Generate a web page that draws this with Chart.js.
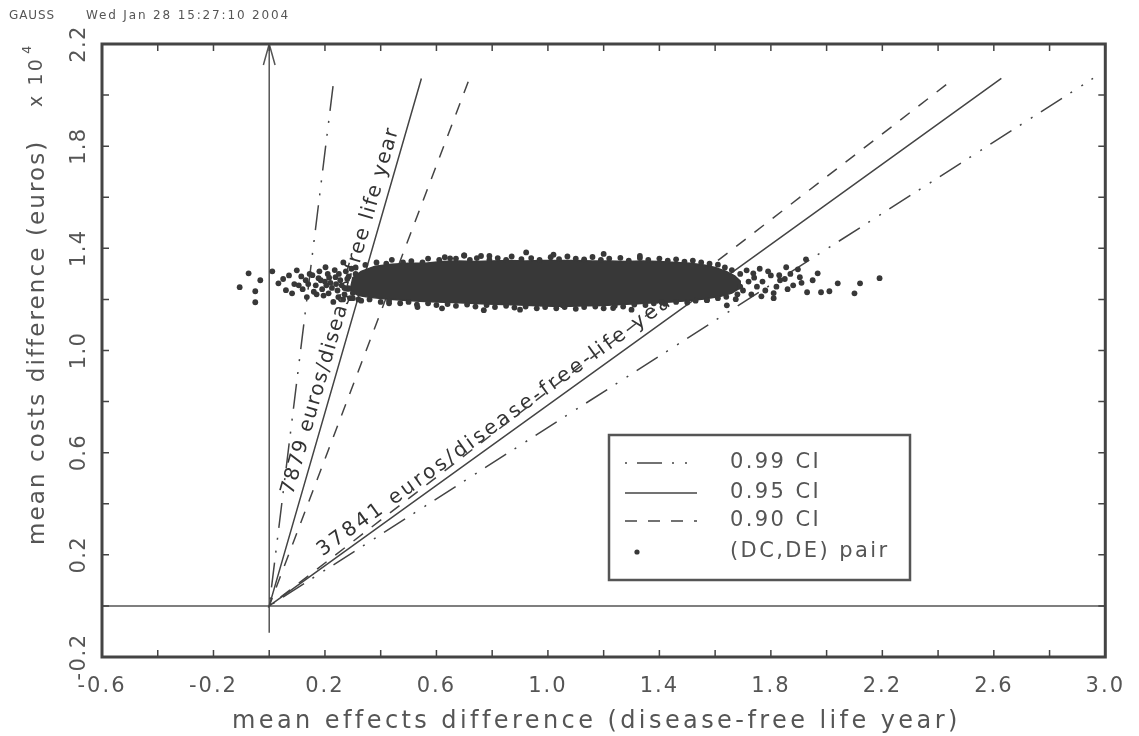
<!DOCTYPE html>
<html>
<head>
<meta charset="utf-8">
<script src="https://cdn.jsdelivr.net/npm/chart.js@4.4.1/dist/chart.umd.min.js"></script>
<style>
  html, body { margin: 0; padding: 0; background: #fff; }
  #wrap { width: 1139px; height: 736px; }
</style>
</head>
<body>
<div id="wrap"><canvas id="ceaPlane" width="1139" height="736"></canvas></div>
<script>
// x: mean effects difference (disease-free life year), y: mean costs difference (x 10^4 euros)
const xTickLabels = ['-0.6', '-0.2', '0.2', '0.6', '1.0', '1.4', '1.8', '2.2', '2.6', '3.0'];
const yTickLabels = ['-0.2', '0.2', '0.6', '1.0', '1.4', '1.8', '2.2'];
const headerTexts = ['GAUSS', 'Wed Jan 28 15:27:10 2004'];
const legendLabels = ['0.99 CI', '0.95 CI', '0.90 CI', '(DC,DE) pair'];

// ends of the CI rays: [steep end, shallow end], each ray starts at the origin
const ci99Ends = [[0.229, 2.035], [2.956, 2.065]];
const ci95Ends = [[0.546, 2.065], [2.627, 2.065]];
const ci90Ends = [[0.714, 2.052], [2.458, 2.065]];

// axes drawn through the origin
const yAxisLine = [[0, -0.105], [0, 2.2]];
const arrowHead = [[-0.021, 2.118], [0, 2.2], [0.021, 2.118]];
const xAxisLine = [[-0.6, 0], [3.0, 0]];

// outline of the solid part of the bootstrap cloud
const cloudCore = [
  [0.29, 1.235], [0.30, 1.285], [0.33, 1.31], [0.38, 1.33], [0.44, 1.338], [0.50, 1.342],
  [0.56, 1.342], [0.62, 1.348], [0.68, 1.35], [0.74, 1.348], [0.80, 1.35], [0.86, 1.352],
  [0.92, 1.35], [0.98, 1.352], [1.04, 1.352], [1.10, 1.352], [1.16, 1.35], [1.22, 1.35],
  [1.28, 1.348], [1.34, 1.35], [1.40, 1.348], [1.46, 1.345], [1.51, 1.342], [1.56, 1.335],
  [1.60, 1.325], [1.64, 1.31], [1.67, 1.292], [1.69, 1.272],
  [1.69, 1.245], [1.66, 1.225], [1.62, 1.212], [1.56, 1.202], [1.50, 1.195], [1.44, 1.19],
  [1.38, 1.187], [1.32, 1.183], [1.26, 1.18], [1.20, 1.176], [1.14, 1.175], [1.08, 1.173],
  [1.02, 1.173], [0.96, 1.175], [0.90, 1.178], [0.84, 1.18], [0.78, 1.182], [0.72, 1.185],
  [0.66, 1.188], [0.60, 1.19], [0.54, 1.193], [0.48, 1.197], [0.42, 1.202], [0.36, 1.208],
  [0.32, 1.215], [0.29, 1.235]
];

// single (DC,DE) pairs around the solid part
const cloudPairs = [
  [-0.106, 1.248], [-0.074, 1.302], [-0.05, 1.232], [-0.05, 1.189], [-0.032, 1.275], [0.011, 1.31],
  [0.033, 1.263], [0.071, 1.294], [0.099, 1.314], [0.106, 1.255], [0.06, 1.236], [0.082, 1.224],
  [0.135, 1.209], [0.167, 1.255], [0.202, 1.326], [0.177, 1.283], [0.213, 1.224], [0.131, 1.275],
  [0.238, 1.287], [0.266, 1.345], [0.248, 1.209], [0.284, 1.244], [0.19, 1.24], [0.22, 1.265],
  [0.25, 1.30], [0.27, 1.22], [0.23, 1.19], [0.26, 1.255], [0.28, 1.28], [0.21, 1.30],
  [0.155, 1.295], [0.12, 1.24], [0.29, 1.205], [0.275, 1.31], [0.245, 1.235], [0.20, 1.27],
  [0.14, 1.26], [0.16, 1.23], [0.18, 1.31], [0.195, 1.215], [0.215, 1.285], [0.225, 1.245],
  [0.235, 1.315], [0.255, 1.275], [0.265, 1.20], [0.27, 1.245], [0.285, 1.29], [0.295, 1.32],
  [0.30, 1.225], [0.31, 1.30], [0.32, 1.20], [0.24, 1.26], [0.205, 1.255], [0.185, 1.275],
  [0.17, 1.22], [0.145, 1.30], [0.115, 1.29], [0.09, 1.26], [0.05, 1.28],
  [0.31, 1.325], [0.345, 1.335], [0.385, 1.345], [0.42, 1.34], [0.44, 1.355], [0.48, 1.345],
  [0.51, 1.35], [0.55, 1.345], [0.57, 1.36], [0.61, 1.355], [0.63, 1.365], [0.67, 1.36],
  [0.70, 1.372], [0.72, 1.355], [0.745, 1.362], [0.76, 1.37], [0.79, 1.355], [0.82, 1.362],
  [0.85, 1.355], [0.87, 1.368], [0.905, 1.358], [0.94, 1.362], [0.97, 1.355], [1.01, 1.365],
  [1.04, 1.358], [1.07, 1.368], [1.10, 1.36], [1.13, 1.357], [1.16, 1.366], [1.19, 1.355],
  [1.22, 1.36], [1.26, 1.363], [1.29, 1.352], [1.33, 1.362], [1.36, 1.355], [1.40, 1.36],
  [1.43, 1.352], [1.46, 1.357], [1.49, 1.348], [1.52, 1.352], [1.55, 1.345], [1.58, 1.34],
  [1.61, 1.336], [1.635, 1.325], [1.66, 1.315], [1.69, 1.30],
  [0.30, 1.205], [0.33, 1.195], [0.36, 1.20], [0.40, 1.19], [0.43, 1.195], [0.47, 1.185],
  [0.50, 1.19], [0.53, 1.18], [0.57, 1.185], [0.60, 1.178], [0.64, 1.182], [0.67, 1.175],
  [0.71, 1.18], [0.74, 1.172], [0.78, 1.178], [0.81, 1.17], [0.85, 1.175], [0.88, 1.168],
  [0.92, 1.172], [0.96, 1.165], [0.99, 1.17], [1.03, 1.165], [1.06, 1.17], [1.10, 1.163],
  [1.13, 1.17], [1.17, 1.172], [1.20, 1.165], [1.24, 1.175], [1.27, 1.172], [1.31, 1.18],
  [1.35, 1.178], [1.38, 1.185], [1.42, 1.183], [1.46, 1.19], [1.50, 1.188], [1.53, 1.195],
  [1.57, 1.198], [1.61, 1.205], [1.64, 1.21], [1.68, 1.22],
  [0.699, 1.372], [0.922, 1.384], [0.649, 1.361], [0.79, 1.37], [1.02, 1.375], [1.20, 1.378],
  [1.33, 1.37], [0.532, 1.17], [0.77, 1.158], [1.053, 1.177], [1.234, 1.166], [1.408, 1.189],
  [1.571, 1.197], [1.642, 1.177], [1.674, 1.201], [0.43, 1.185], [0.90, 1.16], [1.30, 1.16],
  [0.62, 1.165],
  [1.926, 1.357], [1.968, 1.302], [2.04, 1.263], [2.12, 1.263], [2.19, 1.283], [2.10, 1.224],
  [2.01, 1.232], [1.98, 1.228], [1.93, 1.228], [1.855, 1.326], [1.897, 1.318], [1.81, 1.205],
  [1.766, 1.212], [1.88, 1.255], [1.833, 1.275], [1.80, 1.294], [1.737, 1.302], [1.713, 1.314],
  [1.904, 1.287], [1.72, 1.27], [1.75, 1.25], [1.78, 1.235], [1.70, 1.235], [1.74, 1.285],
  [1.77, 1.27], [1.82, 1.25], [1.79, 1.31], [1.86, 1.24], [1.85, 1.28], [1.76, 1.32],
  [1.69, 1.25], [1.73, 1.22], [1.81, 1.225], [1.87, 1.30], [1.83, 1.295], [1.91, 1.265],
  [1.95, 1.275]
];

const FONT = 'DejaVu Sans';
const INK = '#383838';
const TEXT = '#555';

const toPts = arr => arr.map(p => ({ x: p[0], y: p[1] }));
const rayPts = ends => [{ x: ends[0][0], y: ends[0][1] }, { x: 0, y: 0 }, { x: ends[1][0], y: ends[1][1] }];

// text stretched to a given length with letter spacing (GAUSS font is wide)
function spacedText(ctx, text, x, y, length) {
  ctx.letterSpacing = '0px';
  const w = ctx.measureText(text).width;
  ctx.letterSpacing = Math.max(0, (length - w) / text.length) + 'px';
  ctx.textAlign = 'left';
  ctx.fillText(text, x, y);
  ctx.letterSpacing = '0px';
}

// labels written along the 0.95 rays: fraction of ray where text starts/ends, lift above the ray
const rayLabels = [
  { text: '7879 euros/disease-free life year', ends: ci95Ends, which: 0, from: 0.205, to: 0.90, lift: 8 },
  { text: '37841 euros/disease-free-life year', ends: ci95Ends, which: 1, from: 0.08, to: 0.572, lift: 9 }
];

const rayLabelPlugin = {
  id: 'rayLabels',
  beforeDatasetsDraw(chart) {
    const { ctx, scales: { x, y } } = chart;
    const ox = x.getPixelForValue(0), oy = y.getPixelForValue(0);
    ctx.save();
    ctx.fillStyle = '#333';
    ctx.font = '20px "' + FONT + '"';
    ctx.textBaseline = 'alphabetic';
    rayLabels.forEach(l => {
      const e = l.ends[l.which];
      const ex = x.getPixelForValue(e[0]), ey = y.getPixelForValue(e[1]);
      const dx = ex - ox, dy = ey - oy;
      const len = Math.hypot(dx, dy);
      ctx.save();
      ctx.translate(ox + dx * l.from, oy + dy * l.from);
      ctx.rotate(Math.atan2(dy, dx));
      spacedText(ctx, l.text, 0, -l.lift, (l.to - l.from) * len);
      ctx.restore();
    });
    ctx.restore();
  }
};

const framePlugin = {
  id: 'gaussFrame',
  beforeDraw(chart) {
    chart.ctx.letterSpacing = '2px';
  },
  afterDraw(chart) {
    const { ctx, chartArea: a, scales: { x, y } } = chart;
    ctx.save();
    ctx.letterSpacing = '0px';
    // box
    ctx.strokeStyle = '#444';
    ctx.lineWidth = 3;
    ctx.strokeRect(a.left, a.top, a.right - a.left, a.bottom - a.top);
    // inward tick marks on all four sides
    ctx.lineWidth = 1.5;
    ctx.beginPath();
    x.ticks.forEach(t => {
      const px = x.getPixelForValue(t.value);
      ctx.moveTo(px, a.bottom); ctx.lineTo(px, a.bottom - 7);
      ctx.moveTo(px, a.top); ctx.lineTo(px, a.top + 7);
    });
    y.ticks.forEach(t => {
      const py = y.getPixelForValue(t.value);
      ctx.moveTo(a.left, py); ctx.lineTo(a.left + 7, py);
      ctx.moveTo(a.right, py); ctx.lineTo(a.right - 7, py);
    });
    ctx.stroke();

    // y tick labels, rotated like the original
    ctx.fillStyle = TEXT;
    ctx.font = '21px "' + FONT + '"';
    ctx.textBaseline = 'middle';
    y.ticks.forEach(t => {
      const lab = t.value.toFixed(1).replace('-0.0', '0.0');
      if (!yTickLabels.includes(lab)) return;
      ctx.save();
      ctx.translate(a.left - 22, y.getPixelForValue(t.value));
      ctx.rotate(-Math.PI / 2);
      ctx.letterSpacing = '0px';
      const w = ctx.measureText(lab).width + 2 * (lab.length - 1);
      spacedText(ctx, lab, -w / 2, 0, w);
      ctx.restore();
    });

    // axis titles
    ctx.font = '24px "' + FONT + '"';
    ctx.textBaseline = 'alphabetic';
    spacedText(ctx, 'mean effects difference (disease-free life year)', 232, 728, 728);
    ctx.save();
    ctx.translate(44, 545);
    ctx.rotate(-Math.PI / 2);
    ctx.font = '23px "' + FONT + '"';
    spacedText(ctx, 'mean costs difference (euros)', 0, 0, 405);
    ctx.restore();
    ctx.save();
    ctx.translate(42, 107);
    ctx.rotate(-Math.PI / 2);
    ctx.font = '19px "' + FONT + '"';
    spacedText(ctx, 'x 10', 0, 0, 50);
    ctx.font = '13px "' + FONT + '"';
    ctx.fillText('4', 53, -11);
    ctx.restore();

    // header line
    ctx.font = '12px "' + FONT + '"';
    ctx.fillStyle = '#555';
    spacedText(ctx, headerTexts[0], 9, 19, 46);
    spacedText(ctx, headerTexts[1], 86, 19, 204);

    // legend box
    const lg = { left: 609, top: 435, right: 910, bottom: 580, rows: [463, 493, 521, 552], x0: 625, x1: 697, tx: 730 };
    ctx.fillStyle = '#fff';
    ctx.fillRect(lg.left, lg.top, lg.right - lg.left, lg.bottom - lg.top);
    ctx.strokeStyle = '#555';
    ctx.lineWidth = 2.5;
    ctx.strokeRect(lg.left, lg.top, lg.right - lg.left, lg.bottom - lg.top);
    const ds = chart.data.datasets;
    [2, 3, 4].forEach((di, i) => {
      const d = ds[di];
      ctx.save();
      ctx.strokeStyle = d.borderColor;
      ctx.lineWidth = d.borderWidth;
      ctx.setLineDash(d.borderDash || []);
      ctx.lineDashOffset = d.legendDashOffset || 0;
      ctx.beginPath();
      ctx.moveTo(lg.x0, lg.rows[i]);
      ctx.lineTo(lg.x1, lg.rows[i]);
      ctx.stroke();
      ctx.restore();
    });
    ctx.fillStyle = INK;
    ctx.beginPath();
    ctx.arc(lg.x0 + 12, lg.rows[3], 2.6, 0, Math.PI * 2);
    ctx.fill();
    ctx.fillStyle = TEXT;
    ctx.font = '21px "' + FONT + '"';
    ctx.textBaseline = 'middle';
    legendLabels.forEach((lab, i) => {
      ctx.letterSpacing = '2.4px';
      ctx.fillText(lab, lg.tx, lg.rows[i]);
    });
    ctx.restore();
  }
};

const rayStyle = { showLine: true, pointRadius: 0, borderWidth: 1.5, borderColor: '#444', fill: false, tension: 0 };

new Chart(document.getElementById('ceaPlane'), {
  type: 'scatter',
  data: {
    datasets: [
      { label: '(DC,DE) pair', data: toPts(cloudPairs), pointRadius: 2.9, pointBorderWidth: 0,
        backgroundColor: INK, borderColor: INK },
      { label: 'cloud', data: toPts(cloudCore), showLine: true, pointRadius: 0, fill: 'shape',
        backgroundColor: INK, borderColor: INK, borderWidth: 1.5, tension: 0 },
      { label: '0.99 CI', data: rayPts(ci99Ends), ...rayStyle, borderDash: [25, 10, 2, 11, 2, 10], legendDashOffset: 48 },
      { label: '0.95 CI', data: rayPts(ci95Ends), ...rayStyle },
      { label: '0.90 CI', data: rayPts(ci90Ends), ...rayStyle, borderDash: [12, 11] },
      { label: 'arrow', data: toPts(arrowHead), ...rayStyle, borderColor: '#555' },
      { label: 'y axis', data: toPts(yAxisLine), ...rayStyle, borderColor: '#555' },
      { label: 'x axis', data: toPts(xAxisLine), ...rayStyle, borderColor: '#555' }
    ]
  },
  options: {
    responsive: false,
    animation: false,
    layout: { padding: { top: 44, right: 24, left: 0, bottom: 0 } },
    plugins: { legend: { display: false }, tooltip: { enabled: false } },
    scales: {
      x: {
        type: 'linear', min: -0.6, max: 3.0,
        grid: { display: false, drawTicks: false },
        border: { display: false },
        ticks: {
          stepSize: 0.2, autoSkip: false, maxRotation: 0, padding: 17, color: TEXT,
          font: { family: FONT, size: 21 },
          callback: v => {
            const lab = Number(v).toFixed(1);
            return xTickLabels.includes(lab) ? lab : '';
          }
        },
        afterFit: s => { s.height = 79; }
      },
      y: {
        type: 'linear', min: -0.2, max: 2.2,
        grid: { display: false, drawTicks: false },
        border: { display: false },
        ticks: { stepSize: 0.2, display: false },
        afterFit: s => { s.width = 102; }
      }
    }
  },
  plugins: [rayLabelPlugin, framePlugin]
});
</script>
</body>
</html>
